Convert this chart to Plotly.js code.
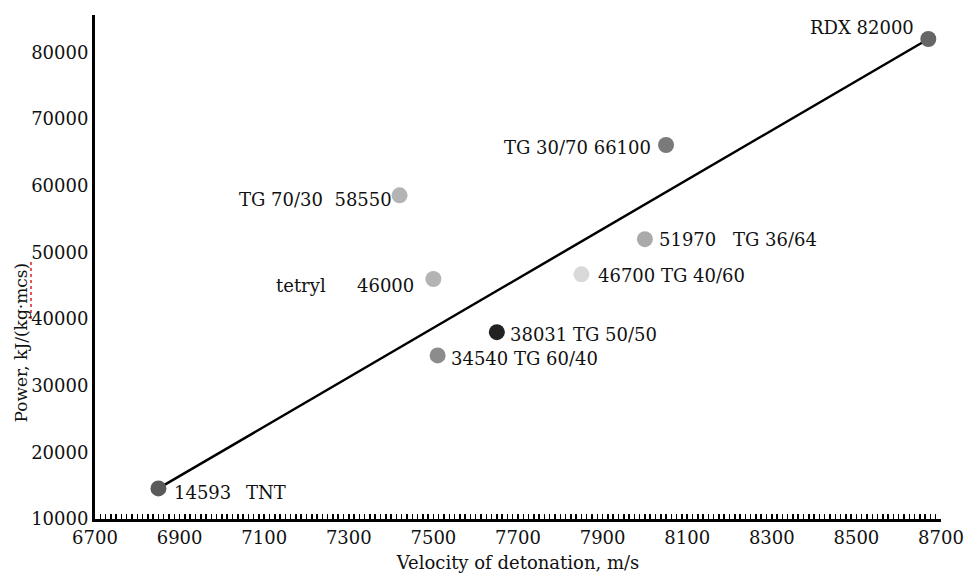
<!DOCTYPE html>
<html>
<head>
<meta charset="utf-8">
<script src="https://cdn.plot.ly/plotly-3.0.1.min.js"></script>
<style>html,body{margin:0;padding:0;background:#fff;}#chart{width:968px;height:573px;}</style>
</head>
<body>
<div id="chart"></div>
<script>
// Data
const names    = ["TNT", "RDX", "TG 30/70", "TG 70/30", "tetryl", "TG 36/64", "TG 40/60", "TG 50/50", "TG 60/40"];
const velocity = [6850, 8670, 8050, 7420, 7500, 8000, 7850, 7650, 7510];
const power    = [14593, 82000, 66100, 58550, 46000, 51970, 46700, 38031, 34540];
const colors   = ["#5a5a5a", "#666666", "#7a7a7a", "#b4b4b4", "#b4b4b4", "#aaaaaa", "#d9d9d9", "#222222", "#8c8c8c"];
// Trend line end points
const trendX = [6850, 8670];
const trendY = [14593, 82000];
// Axis ticks
const xTickVals = [6700, 6900, 7100, 7300, 7500, 7700, 7900, 8100, 8300, 8500, 8700];
const yTickVals = [10000, 20000, 30000, 40000, 50000, 60000, 70000, 80000];

const FONT = "DejaVu Serif, Liberation Serif, serif";
const FS = 18;

// label layout: [index, text, anchor, xshift, yshift]
const labelLayout = [
  [1, "RDX 82000", "right", -12, 12],
  [2, "TG 30/70 66100", "right", -13, -2],
  [3, "TG 70/30  58550", "right", -6, -4],
  [4, "46000", "right", -17, -6],
  [4, "tetryl", "right", -105, -6],
  [5, "51970", "left", 12, 0],
  [5, "TG 36/64", "left", 86, 0],
  [6, "46700 TG 40/60", "left", 15, -1],
  [7, "38031 TG 50/50", "left", 11, -2],
  [8, "34540 TG 60/40", "left", 11, -3],
  [0, "14593", "left", 14, -4],
  [0, "TNT", "left", 86, -4]
];

const annotations = labelLayout.map(l => ({
  x: velocity[l[0]], y: power[l[0]], xref: "x", yref: "y",
  text: l[1], showarrow: false, xanchor: l[2], yanchor: "middle",
  xshift: l[3], yshift: l[4],
  font: {family: FONT, size: FS, color: "#111"}
}));

annotations.push({
  xref: "paper", yref: "paper", x: -0.088, y: 0.5 - (343 - 267) / 504,
  text: "Power, kJ/(kg·mcs)", showarrow: false, textangle: -90,
  xanchor: "center", yanchor: "middle",
  font: {family: FONT, size: 17, color: "#111"}
});

const traces = [
  {x: trendX, y: trendY, type: "scatter", mode: "lines",
   line: {color: "#000", width: 2.5}, hoverinfo: "skip", showlegend: false},
  {x: velocity, y: power, text: names, type: "scatter", mode: "markers",
   marker: {size: 16, color: colors}, showlegend: false}
];

const layout = {
  width: 968, height: 573,
  margin: {l: 95, r: 27, t: 15, b: 54},
  paper_bgcolor: "#fff", plot_bgcolor: "#fff",
  showlegend: false,
  font: {family: FONT, size: FS, color: "#111"},
  xaxis: {
    range: [6700, 8700], tickvals: xTickVals, ticktext: xTickVals.map(String),
    showgrid: false, zeroline: false, showline: true, linecolor: "#000", linewidth: 3,
    ticks: "inside", ticklen: 5, tickwidth: 1.5, tickcolor: "#000",
    minor: {dtick: 12.5, tick0: 6700, ticks: "inside", ticklen: 5, tickwidth: 1.5, tickcolor: "#000", showgrid: false},
    tickfont: {family: FONT, size: FS, color: "#111"},
    title: {text: "Velocity of detonation, m/s", font: {family: FONT, size: FS, color: "#111"}, standoff: 10}
  },
  yaxis: {
    range: [10000, 85600], tickvals: yTickVals, ticktext: yTickVals.map(String),
    showgrid: false, zeroline: false, showline: true, linecolor: "#000", linewidth: 3,
    ticks: "", ticklabelstandoff: 0,
    tickfont: {family: FONT, size: FS, color: "#111"}
  },
  annotations: annotations,
  shapes: [{
    type: "line", xref: "paper", yref: "paper",
    x0: (31 - 95) / 846, x1: (31 - 95) / 846,
    y0: (519 - 262) / 504, y1: (519 - 322) / 504,
    line: {color: "#e02020", width: 1.5, dash: "dot"}
  }]
};

Plotly.newPlot("chart", traces, layout, {displayModeBar: false, staticPlot: true});
</script>
</body>
</html>
